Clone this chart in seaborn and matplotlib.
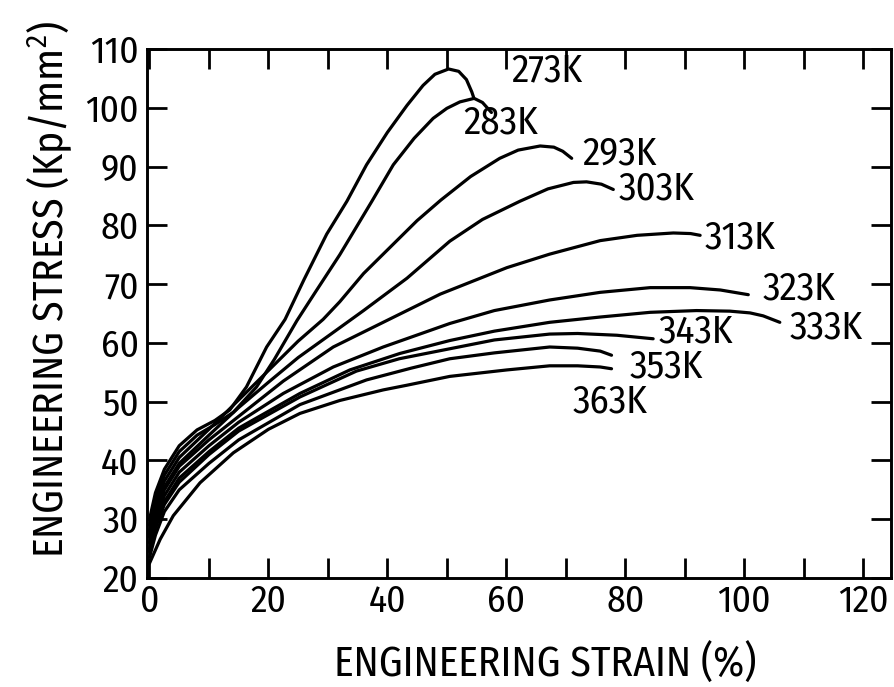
import numpy as np
import pandas as pd
import matplotlib
matplotlib.use("Agg")
import matplotlib.pyplot as plt
from matplotlib.ticker import MultipleLocator
import seaborn as sns

# Engineering stress-strain curves at ten test temperatures
temps = ["273K", "283K", "293K", "303K", "313K", "323K", "333K", "343K", "353K", "363K"]

strain_273 = [0, 1, 2.5, 5, 8, 11, 13.5, 16.3, 19.7, 22.8, 26, 29.8, 33.2, 36.5, 40, 43.3, 46, 48, 50.3, 52, 53.3, 54.2, 54.5]
stress_273 = [30, 34.5, 38.5, 42.5, 45.2, 46.8, 48.6, 52.5, 59.3, 64.0, 70.8, 78.5, 84.1, 90.3, 95.8, 100.4, 103.8, 105.7, 106.6, 106.2, 104.8, 102.7, 101.8]

strain_283 = [0, 1, 2.5, 5, 8, 11, 14.1, 18, 21, 24.8, 28, 32, 37.4, 41, 44.5, 47.7, 50, 52.2, 54.6, 56, 57.5]
stress_283 = [29, 33.5, 37.5, 41.5, 44.3, 46.1, 48.2, 52.5, 57.2, 63.8, 68.8, 75, 84.1, 90.3, 94.8, 98.2, 99.9, 101.0, 101.6, 100.9, 99.2]

strain_293 = [0, 1, 2.5, 5, 10, 15, 20, 25, 29.2, 32, 36, 40.4, 45, 49, 54, 58.9, 62, 65.7, 68, 69.5, 71.0]
stress_293 = [28, 32.5, 36.5, 40.5, 45.3, 50.3, 55.3, 60.3, 64.0, 67.0, 71.8, 76.2, 80.8, 84.3, 88.3, 91.4, 92.8, 93.5, 93.3, 92.6, 91.4]

strain_303 = [0, 1, 2.5, 5, 10, 15, 20, 25, 31.2, 36, 43.3, 50.5, 56, 62.3, 67, 71.3, 73.5, 76, 78.0]
stress_303 = [27.5, 31.5, 35.5, 39.5, 44.3, 49, 53.3, 57.5, 62, 65.5, 71, 77.3, 81, 84.1, 86.2, 87.3, 87.4, 87, 86.1]

strain_313 = [0, 1, 2.5, 5, 10, 15, 22.5, 30.9, 39.3, 48.9, 60.1, 67.3, 75.8, 82, 88.1, 91, 92.6]
stress_313 = [27, 31, 35, 39, 43.5, 47.5, 53.5, 59.3, 63.5, 68.3, 72.8, 75.1, 77.4, 78.3, 78.7, 78.6, 78.3]

strain_323 = [0, 1, 2.5, 5, 10, 15, 22.5, 30.9, 39.3, 50.5, 58, 67.3, 75.8, 84.2, 90.9, 96, 100.7]
stress_323 = [26, 30, 34, 38, 42.5, 46.5, 51.4, 55.9, 59.3, 63.3, 65.5, 67.3, 68.6, 69.4, 69.4, 69, 68.2]

strain_333 = [0, 1, 2.5, 5, 10, 15, 25.3, 33.7, 42.1, 50.5, 58, 67.3, 75.8, 84.2, 92, 97.6, 101, 103.2, 106]
stress_333 = [25, 29, 33, 37, 41.5, 45.5, 51.4, 55.4, 58.2, 60.4, 62, 63.5, 64.4, 65.2, 65.5, 65.4, 65.1, 64.6, 63.5]

strain_343 = [0, 1, 2.5, 5, 10, 15, 25.3, 34.8, 42, 50.5, 58, 67.3, 72, 78.6, 84.7]
stress_343 = [24.5, 28.5, 32.5, 36.3, 41, 45, 50.8, 55.2, 57.3, 59.0, 60.5, 61.5, 61.6, 61.3, 60.7]

strain_353 = [0, 1, 2.5, 5, 10, 15, 25.3, 36.5, 44, 50.5, 58, 67.3, 72, 75.8, 77.7]
stress_353 = [23.5, 27.3, 31.3, 35, 39.5, 43.5, 49.5, 53.7, 55.7, 57.3, 58.3, 59.3, 59.1, 58.6, 57.9]

strain_363 = [0, 1.8, 4, 8.5, 14.1, 20, 25.3, 32, 39.3, 43.3, 50.5, 60.1, 67.3, 72, 75.8, 77.7]
stress_363 = [22.5, 26.6, 30.6, 36.2, 41.3, 45.3, 48, 50.2, 52, 52.8, 54.3, 55.4, 56.1, 56.1, 55.9, 55.6]

strains = [strain_273, strain_283, strain_293, strain_303, strain_313,
           strain_323, strain_333, strain_343, strain_353, strain_363]
stresses = [stress_273, stress_283, stress_293, stress_303, stress_313,
            stress_323, stress_333, stress_343, stress_353, stress_363]

# Where each temperature tag sits (strain, stress)
label_strain = [66.9, 59.0, 79.1, 85.2, 99.3, 109.2, 113.8, 91.9, 86.9, 77.4]
label_stress = [106.3, 97.4, 92.2, 86.1, 77.8, 69.2, 62.6, 61.8, 55.9, 49.9]

frames = []
for t, xs, ys in zip(temps, strains, stresses):
    frames.append(pd.DataFrame({"strain": xs, "stress": ys, "temp": t}))
df = pd.concat(frames, ignore_index=True)

sns.set_style("ticks")
FONT = "Fira Sans Condensed"
plt.rcParams["font.family"] = [FONT, "DejaVu Sans"]
plt.rcParams["font.weight"] = 400
plt.rcParams["mathtext.fontset"] = "custom"
plt.rcParams["mathtext.rm"] = FONT
plt.rcParams["mathtext.it"] = FONT
for key in ("text.color", "axes.labelcolor", "xtick.color", "ytick.color", "axes.edgecolor"):
    plt.rcParams[key] = "black"

fig = plt.figure(figsize=(8.95, 6.87), dpi=100)
ax = fig.add_axes([147 / 895, 1 - 578 / 687, (890.7 - 147) / 895, (578 - 49) / 687])

sns.lineplot(data=df, x="strain", y="stress", hue="temp", units="temp",
             estimator=None, sort=False, palette=["black"] * len(temps),
             linewidth=2.3, legend=False, ax=ax)

for t, lx, ly in zip(temps, label_strain, label_stress):
    ax.text(lx, ly, t, ha="center", va="center", fontsize=28, color="black")

ax.set_xlim(-0.42, 124.65)
ax.set_ylim(20, 110)
ax.xaxis.set_major_locator(MultipleLocator(20))
ax.xaxis.set_minor_locator(MultipleLocator(10))
ax.yaxis.set_major_locator(MultipleLocator(10))

ax.tick_params(which="both", direction="in", top=True, right=True,
               length=14.5, width=2.0, color="black")
ax.tick_params(axis="both", which="major", labelsize=27, labelcolor="black")
ax.tick_params(axis="y", which="major", pad=6)
ax.tick_params(axis="x", which="major", pad=4)

for s in ax.spines.values():
    s.set_linewidth(2.1)
    s.set_color("black")

ax.set_xlabel("ENGINEERING STRAIN (%)", fontsize=30)
ax.set_ylabel(r"ENGINEERING STRESS (Kp/mm$^2$)", fontsize=30)
ax.xaxis.set_label_coords((545 - 147) / (890.7 - 147), -(676 - 578) / (578 - 49))
ax.xaxis.label.set_va("baseline")
ax.yaxis.set_label_coords(-(147 - 63) / (890.7 - 147), (578 - 289) / (578 - 49))
ax.yaxis.label.set_va("baseline")
ax.yaxis.label.set_ha("center")

fig.savefig("out.png", dpi=100)
